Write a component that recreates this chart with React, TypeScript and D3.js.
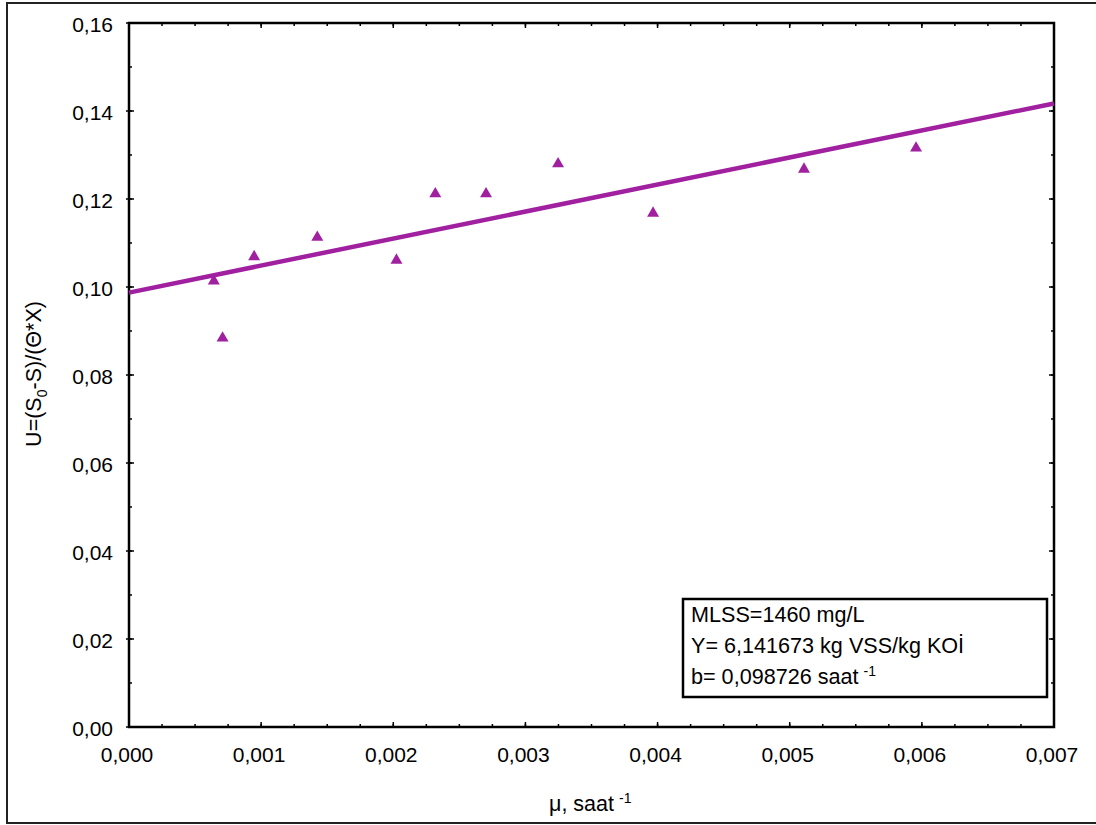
import React from "react";
import * as d3 from "d3";

const muValues = [0.000642, 0.000708, 0.000947, 0.001425, 0.002024, 0.002318, 0.002702, 0.003247, 0.003966, 0.005108, 0.005956];
const uValues = [0.1016, 0.0886, 0.1071, 0.1115, 0.1063, 0.1214, 0.1214, 0.1282, 0.1170, 0.1270, 0.1318];
const slopeY = 6.141673;
const interceptB = 0.098726;
const xTicks = [0, 0.001, 0.002, 0.003, 0.004, 0.005, 0.006, 0.007];
const yTicks = [0, 0.02, 0.04, 0.06, 0.08, 0.1, 0.12, 0.14, 0.16];
const legendLines = ["MLSS=1460 mg/L", "Y= 6,141673 kg VSS/kg KOİ", "b= 0,098726 saat"];

const W = 1096;
const H = 825;
const L = 129, R = 1054, T = 23, B = 727;
const purple = "#a020a0";
const font = "Arial, 'Liberation Sans', sans-serif";

export default function App() {
  const x = d3.scaleLinear().domain([0, 0.007]).range([L, R]);
  const y = d3.scaleLinear().domain([0, 0.16]).range([B, T]);
  const minorX = d3.range(0, 0.007 + 1e-9, 0.00025);
  const minorY = d3.range(0, 0.16 + 1e-9, 0.01);
  const fmtX = (v: number) => d3.format(".3f")(v).replace(".", ",");
  const fmtY = (v: number) => d3.format(".2f")(v).replace(".", ",");
  const line = d3.line<number>().x((d) => x(d)).y((d) => y(interceptB + slopeY * d));
  const tri = d3.symbol().type(d3.symbolTriangle).size(62);

  return (
    <div style={{ position: "absolute", left: 0, top: 0 }}>
      <svg width={W} height={H} style={{ display: "block" }} fontFamily={font}>
        <rect x={0} y={0} width={W} height={H} fill="#fff" />
        <rect x={7} y={3} width={W + 10} height={820} fill="none" stroke="#222" strokeWidth={2} />
        {minorX.map((v, i) => (
          <g key={"mx" + i}>
            <line x1={x(v)} x2={x(v)} y1={B} y2={B - 3} stroke="#000" strokeWidth={1.5} />
            <line x1={x(v)} x2={x(v)} y1={T} y2={T + 3} stroke="#000" strokeWidth={1.5} />
          </g>
        ))}
        {minorY.map((v, i) => (
          <g key={"my" + i}>
            <line x1={L} x2={L + 3} y1={y(v)} y2={y(v)} stroke="#000" strokeWidth={1.5} />
            <line x1={R} x2={R - 3} y1={y(v)} y2={y(v)} stroke="#000" strokeWidth={1.5} />
          </g>
        ))}
        {xTicks.map((v, i) => (
          <g key={"xt" + i}>
            <line x1={x(v)} x2={x(v)} y1={B + 1} y2={B - 5} stroke="#000" strokeWidth={1.5} />
            <line x1={x(v)} x2={x(v)} y1={T - 1} y2={T + 5} stroke="#000" strokeWidth={1.5} />
            <text x={x(v) - 2} y={B + 35} fontSize={21} textAnchor="middle" fill="#000">{fmtX(v)}</text>
          </g>
        ))}
        {yTicks.map((v, i) => (
          <g key={"yt" + i}>
            <line x1={L - 3} x2={L + 5} y1={y(v)} y2={y(v)} stroke="#000" strokeWidth={1.5} />
            <line x1={R + 1} x2={R - 5} y1={y(v)} y2={y(v)} stroke="#000" strokeWidth={1.5} />
            <text x={113} y={y(v) + 8.5} fontSize={21} textAnchor="end" fill="#000">{fmtY(v)}</text>
          </g>
        ))}
        <rect x={L} y={T} width={R - L} height={B - T} fill="none" stroke="#000" strokeWidth={2.5} />
        <path d={line([0, 0.007]) || ""} fill="none" stroke={purple} strokeWidth={4.5} />
        {muValues.map((m, i) => (
          <path key={"p" + i} d={tri() || ""} transform={`translate(${x(m)},${y(uValues[i]) + 1})`} fill={purple} />
        ))}
        <rect x={683} y={599} width={364} height={98} fill="#fff" stroke="#000" strokeWidth={2.5} />
        <text x={691} y={622} fontSize={21.6} fill="#000">{legendLines[0]}</text>
        <text x={691} y={653} fontSize={21.6} fill="#000">{legendLines[1]}</text>
        <text x={691} y={684} fontSize={21.6} fill="#000">
          {legendLines[2]}
          <tspan dx={5} dy={-8} fontSize={14}>-1</tspan>
        </text>
        <text x={549} y={811} fontSize={21.5} fill="#000">
          μ, saat<tspan dx={5} dy={-8} fontSize={14}>-1</tspan>
        </text>
        <text transform="translate(41,374) rotate(-90)" fontSize={21.5} textAnchor="middle" fill="#000">
          U=(S<tspan dy={6} fontSize={14}>0</tspan><tspan dy={-6}>-S)/(Θ*X)</tspan>
        </text>
      </svg>
    </div>
  );
}
